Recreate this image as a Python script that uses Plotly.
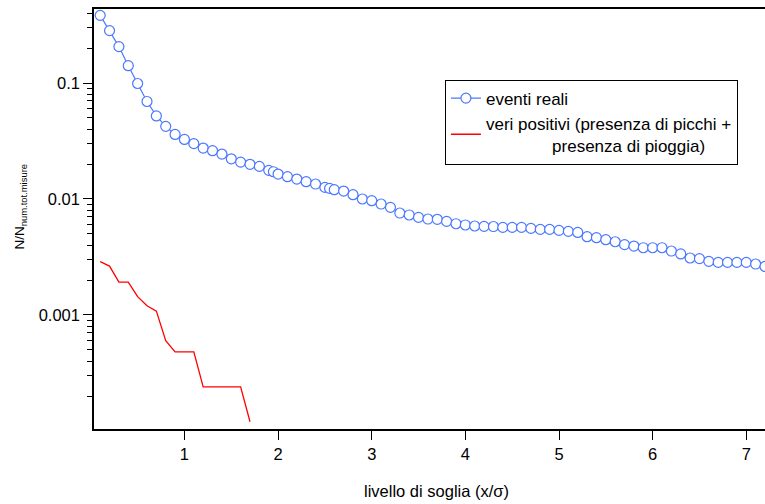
import plotly.graph_objects as go

# eventi reali
x_reali = [0.1, 0.2, 0.3, 0.4, 0.5, 0.6, 0.7, 0.8, 0.9, 1.0,
           1.1, 1.2, 1.3, 1.4, 1.5, 1.6, 1.7, 1.8, 1.9, 1.95,
           2.0, 2.1, 2.2, 2.3, 2.4, 2.5, 2.55, 2.6, 2.7, 2.8,
           2.9, 3.0, 3.1, 3.2, 3.3, 3.4, 3.5, 3.6, 3.7, 3.8,
           3.9, 4.0, 4.1, 4.2, 4.3, 4.4, 4.5, 4.6, 4.7, 4.8,
           4.9, 5.0, 5.1, 5.2, 5.3, 5.4, 5.5, 5.6, 5.7, 5.8,
           5.9, 6.0, 6.1, 6.2, 6.3, 6.4, 6.5, 6.6, 6.7, 6.8,
           6.9, 7.0, 7.1, 7.2]
y_reali = [0.383, 0.283, 0.206, 0.141, 0.099, 0.0693, 0.052, 0.0423, 0.036, 0.0326,
           0.030, 0.0275, 0.0261, 0.0244, 0.0222, 0.0208, 0.0199, 0.0191, 0.01766, 0.01718,
           0.0164, 0.01556, 0.01486, 0.01409, 0.01346, 0.01259, 0.01234, 0.01202, 0.01171, 0.01089,
           0.0100, 0.00967, 0.00905, 0.00847, 0.00757, 0.00728, 0.00694, 0.00672, 0.00668, 0.00641,
           0.00612, 0.00597, 0.00585, 0.00581, 0.00579, 0.00569, 0.00569, 0.00569, 0.00558, 0.00547,
           0.00547, 0.00536, 0.00526, 0.00515, 0.00473, 0.00464, 0.00446, 0.00428, 0.00404, 0.00393,
           0.00380, 0.00380, 0.00380, 0.00356, 0.00336, 0.00310, 0.00306, 0.00290, 0.00284, 0.00284,
           0.00284, 0.00284, 0.00275, 0.00262]

# veri positivi
x_veri = [0.1, 0.2, 0.3, 0.4, 0.5, 0.6, 0.7, 0.8, 0.9, 1.0, 1.1, 1.2, 1.3, 1.4, 1.5, 1.6, 1.7]
y_veri = [0.00288, 0.00264, 0.00192, 0.00192, 0.00144, 0.00120, 0.00108, 0.00060, 0.00048,
          0.00048, 0.00048, 0.00024, 0.00024, 0.00024, 0.00024, 0.00024, 0.00012]

x_ticks = [1, 2, 3, 4, 5, 6, 7]
y_major = [0.001, 0.01, 0.1]
y_major_text = ["0.001", "0.01", "0.1"]
y_minor = [m * d for d in [0.0001, 0.001, 0.01, 0.1] for m in range(2, 10)]

FONT = "Liberation Sans, Arial, sans-serif"
BLUE = "#4a78ff"
NB = "\u00a0"
FS = 16.5

fig = go.Figure()
fig.add_trace(go.Scatter(
    x=x_reali, y=y_reali, mode="lines+markers", name="eventi reali",
    line=dict(color=BLUE, width=1.2),
    marker=dict(symbol="circle", size=10, color="white", line=dict(color=BLUE, width=1.2)),
))
fig.add_trace(go.Scatter(
    x=x_veri, y=y_veri, mode="lines",
    name="veri positivi (presenza di picchi +<br>" + NB * 14 + "presenza di pioggia)",
    line=dict(color="#ff0000", width=1.3),
))

fig.update_layout(
    width=765, height=504,
    margin=dict(l=94, r=0, t=9, b=75),
    paper_bgcolor="white", plot_bgcolor="white",
    font=dict(family=FONT, size=FS, color="black"),
    showlegend=True,
    legend=dict(
        x=0.523, y=0.832, xanchor="left", yanchor="top",
        bordercolor="black", borderwidth=1, bgcolor="white",
        font=dict(size=17), tracegroupgap=0,
    ),
    xaxis=dict(
        range=[0.034, 7.2], tickvals=x_ticks, ticks="outside", ticklen=9, tickwidth=1.3,
        tickcolor="black", showline=True, linecolor="black", linewidth=1.5, mirror=True,
        showgrid=False, zeroline=False, tickfont=dict(size=FS),
    ),
    yaxis=dict(
        type="log", range=[-3.983, -0.362], tickvals=y_major, ticktext=y_major_text,
        ticks="outside", ticklen=9, tickwidth=1.3, tickcolor="black",
        showline=True, linecolor="black", linewidth=1.5,
        showgrid=False, zeroline=False, tickfont=dict(size=FS),
        minor=dict(tickvals=y_minor, ticks="outside", ticklen=5, tickwidth=1.1,
                   tickcolor="black", showgrid=False),
    ),
    annotations=[
        dict(text="livello di soglia (x/\u03c3)", xref="paper", yref="paper",
             x=0.51, y=-0.148, xanchor="center", yanchor="middle", showarrow=False,
             font=dict(size=FS)),
        dict(text="N/N<sub>num.tot.misure</sub>", xref="paper", yref="paper",
             x=-0.11, y=0.53, xanchor="center", yanchor="middle", showarrow=False,
             textangle=-90, font=dict(size=13.5)),
    ],
)

fig.write_html("out.html", config={"displayModeBar": False},
               post_script="document.body.style.margin='0';")
